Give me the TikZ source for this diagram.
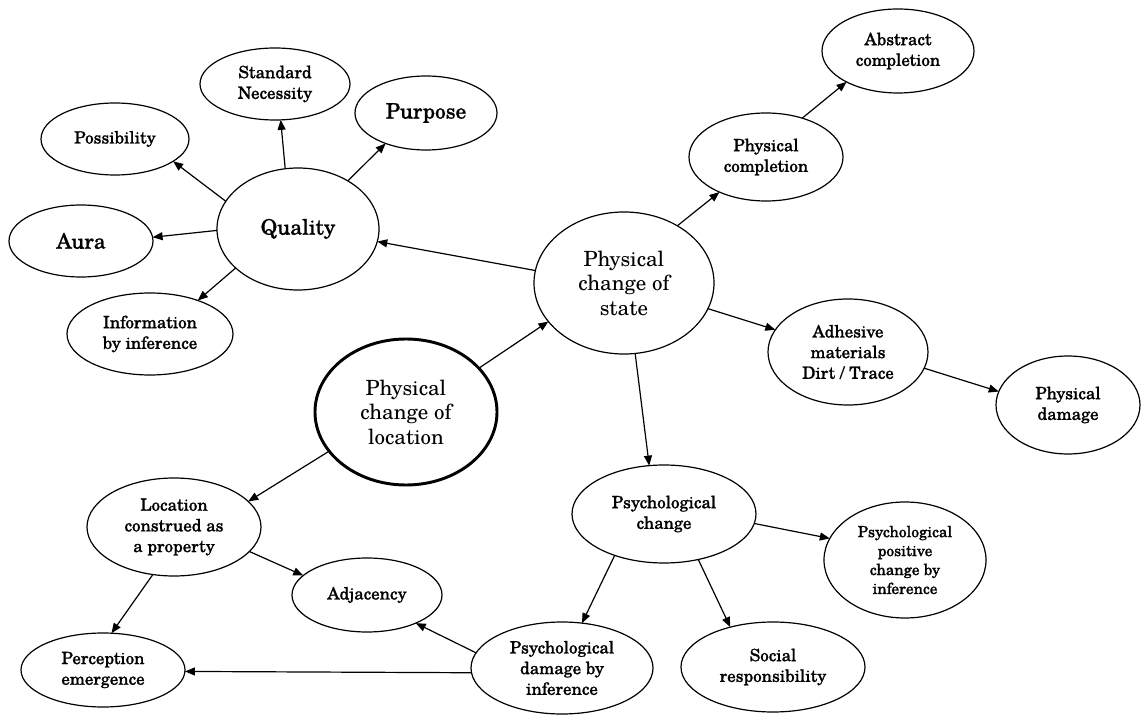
\documentclass[tikz,border=0pt]{standalone}
\usepackage{fontspec}
\setmainfont{texgyreschola-regular.otf}
\newfontfamily\darkface{texgyreschola-regular.otf}[FakeBold=1.1]
\usetikzlibrary{shapes.geometric,arrows.meta}
\begin{document}
\begin{tikzpicture}[x=0.75pt,y=-0.75pt,
  bub/.style 2 args={ellipse,draw,line width=0.9pt,inner sep=0pt,outer sep=0pt,align=center,
    minimum width=#1*1.5pt,minimum height=#2*1.5pt},
  sm/.style={font=\darkface\fontsize{12.7}{15.5}\selectfont},
  lg/.style={font=\darkface\fontsize{16}{19}\selectfont},
  md/.style={font=\fontsize{15.7}{18.4}\selectfont},
  xs/.style={font=\darkface\fontsize{11.5}{14.2}\selectfont},
  heavy/.style={line width=2.2pt},
  arr/.style={-{Triangle[length=7.5pt,width=6pt]},line width=0.9pt}]
\useasboundingbox (0,0) rectangle (1142,716);
% nodes
\node[bub={75}{36},sm] (sn) at (275,84) {Standard\\Necessity};
\node[bub={74}{36},sm] (pos) at (115,139) {Possibility};
\node[bub={71}{37},lg] (pur) at (426,113) {Purpose};
\node[bub={81}{61},lg] (qual) at (298,229) {Quality};
\node[bub={72}{36},lg] (aura) at (81,241) {Aura};
\node[bub={83}{41},sm] (info) at (150,334) {Information\\by inference};
\node[bub={76}{42},sm] (abs) at (898,51) {Abstract\\completion};
\node[bub={77}{44},sm] (pcomp) at (766,157) {Physical\\completion};
\node[bub={90}{71},md] (pcs) at (624,283) {Physical\\change of\\state};
\node[bub={80}{53},sm] (adh) at (848,352) {Adhesive\\materials\\Dirt / Trace};
\node[bub={91}{73},md,heavy] (pcl) at (406,412) {Physical\\change of\\location};
\node[bub={87}{49},sm] (loc) at (174,527) {Location\\construed as\\a property};
\node[bub={75}{37},sm] (adj) at (367,595) {Adjacency};
\node[bub={82}{37},sm] (perc) at (103,670) {Perception\\emergence};
\node[bub={72}{49},sm] (pdam) at (1068,405) {Physical\\damage};
\node[bub={92}{49},sm] (pch) at (664,514) {Psychological\\change};
\node[bub={81}{58},xs] (ppos) at (905,560) {Psychological\\positive\\change by\\inference};
\node[bub={91}{46},sm] (psyd) at (562,668) {Psychological\\damage by\\inference};
\node[bub={92}{45},sm] (soc) at (773,667) {Social\\responsibility};
% connectors
\draw[arr] (qual.159) -- (pos.-21);
\draw[arr] (qual.102) -- (sn.-81);
\draw[arr] (qual.44) -- (pur.-143);
\draw[arr] (qual.181) -- (aura.3);
\draw[arr] (qual.-148) -- (info.35);
\draw[arr] (pcs.172) -- (qual.-9);
\draw[arr] (pcs.47) -- (pcomp.-143);
\draw[arr] (pcomp.47) -- (abs.-149);
\draw[arr] (pcs.-17) -- (adh.163);
\draw[arr] (adh.-12) -- (pdam.169);
\draw[arr] (pcs.-81) -- (pch.107);
\draw[arr] (pcl.31) -- (pcs.-153);
\draw[arr] (pcl.-153) -- (loc.19);
\draw[arr] (loc.-18) -- (adj.163);
\draw[arr] (loc.-114) -- (perc.77);
\draw[arr] (psyd.170) -- (adj.-30);
\draw[arr] (psyd.183) -- (perc.-1);
\draw[arr] (pch.-140) -- (psyd.66);
\draw[arr] (pch.-53) -- (soc.137);
\draw[arr] (pch.-6) -- (ppos.164);
\end{tikzpicture}
\end{document}
